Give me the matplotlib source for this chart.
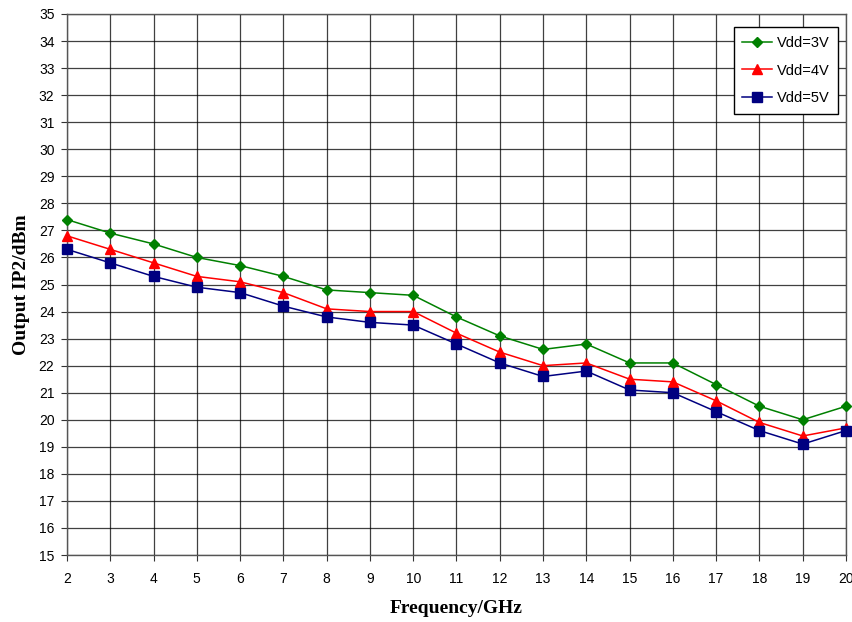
import matplotlib.pyplot as plt

freq = list(range(2, 21))
vdd3 = [27.4, 26.9, 26.5, 26.0, 25.7, 25.3, 24.8, 24.7, 24.6, 23.8, 23.1, 22.6, 22.8, 22.1, 22.1, 21.3, 20.5, 20.0, 20.5]
vdd4 = [26.8, 26.3, 25.8, 25.3, 25.1, 24.7, 24.1, 24.0, 24.0, 23.2, 22.5, 22.0, 22.1, 21.5, 21.4, 20.7, 19.9, 19.4, 19.7]
vdd5 = [26.3, 25.8, 25.3, 24.9, 24.7, 24.2, 23.8, 23.6, 23.5, 22.8, 22.1, 21.6, 21.8, 21.1, 21.0, 20.3, 19.6, 19.1, 19.6]

plt.rcParams['font.family'] = ['Liberation Sans', 'DejaVu Sans']

fig = plt.figure(figsize=(8.53, 6.22), dpi=100)
ax = fig.add_axes([0.0785, 0.1077, 0.9133, 0.8698])

ax.plot(freq, vdd3, color='#008000', marker='D', markersize=5, lw=1.1, label='Vdd=3V', clip_on=False, zorder=3)
ax.plot(freq, vdd4, color='#ff0000', marker='^', markersize=7, lw=1.1, label='Vdd=4V', clip_on=False, zorder=3)
ax.plot(freq, vdd5, color='#000080', marker='s', markersize=6.5, lw=1.1, label='Vdd=5V', clip_on=False, zorder=3)

ax.set_xlim(2, 20)
ax.set_ylim(15, 35)
ax.set_xticks(freq)
ax.set_yticks(range(15, 36))
ax.tick_params(labelsize=10, direction='out', length=4, color='#333333')
ax.tick_params(axis='x', pad=8)
ax.tick_params(axis='y', pad=5)
ax.grid(True, color='black', lw=0.9, alpha=0.75)
for s in ax.spines.values():
    s.set_color('#555555')
    s.set_linewidth(1)

ax.set_xlabel('Frequency/GHz', fontsize=14, fontweight='bold', family='Liberation Serif', labelpad=10)
ax.set_ylabel('Output IP2/dBm', fontsize=14, fontweight='bold', family='Liberation Serif', labelpad=6)

leg = ax.legend(loc='upper right', bbox_to_anchor=(0.99, 0.976), borderaxespad=0, fontsize=10.5,
                fancybox=False, framealpha=1, edgecolor='black', borderpad=0.6, labelspacing=0.95,
                handlelength=2.0, handletextpad=0.35)
leg.get_frame().set_linewidth(1)

fig.savefig('out.png', dpi=100)
